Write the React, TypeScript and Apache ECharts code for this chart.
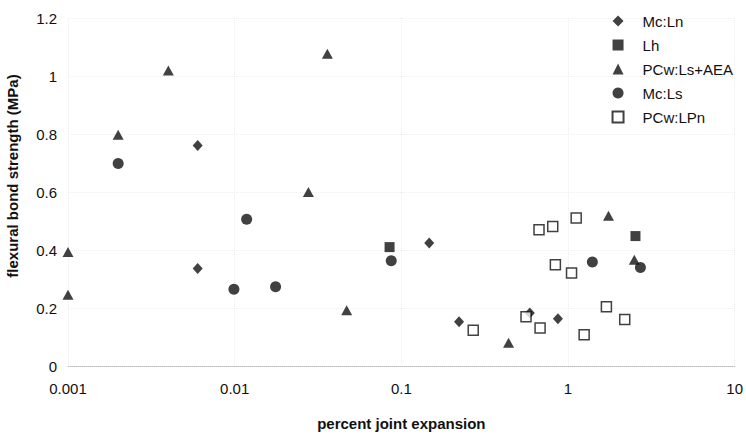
import React, { useEffect, useRef } from "react";
import * as echarts from "echarts";

const seriesNames = ["Mc:Ln", "Lh", "PCw:Ls+AEA", "Mc:Ls", "PCw:LPn"];

const mcLn: [number, number][] = [
  [0.006, 0.76], [0.006, 0.336], [0.147, 0.424], [0.222, 0.153], [0.59, 0.183], [0.87, 0.163],
];
const lh: [number, number][] = [
  [0.085, 0.41], [2.54, 0.448],
];
const pcwLsAea: [number, number][] = [
  [0.001, 0.393], [0.001, 0.246], [0.002, 0.797], [0.004, 1.019], [0.036, 1.077],
  [0.0277, 0.6], [0.047, 0.192], [0.44, 0.08], [1.75, 0.518], [2.5, 0.366],
];
const mcLs: [number, number][] = [
  [0.002, 0.698], [0.0118, 0.506], [0.0099, 0.265], [0.0176, 0.273], [0.087, 0.363],
  [1.4, 0.359], [2.72, 0.34],
];
const pcwLPn: [number, number][] = [
  [0.67, 0.47], [0.81, 0.481], [1.12, 0.51], [0.84, 0.349], [1.05, 0.321], [1.7, 0.204],
  [2.19, 0.16], [1.25, 0.108], [0.56, 0.17], [0.68, 0.131], [0.27, 0.123],
];

const xTickLabels = ["0.001", "0.01", "0.1", "1", "10"];
const yTickLabels = ["0", "0.2", "0.4", "0.6", "0.8", "1", "1.2"];

const xTitle = "percent joint expansion";
const yTitle = "flexural bond strength (MPa)";

const FONT = "'Liberation Sans', Arial, sans-serif";
const INK = "#111";

export default function App() {
  const ref = useRef<HTMLDivElement>(null);
  useEffect(() => {
    if (!ref.current) return;
    const chart = echarts.init(ref.current, undefined, { renderer: "svg" });
    const filled = { color: INK };
    chart.setOption({
      animation: false,
      backgroundColor: "#fff",
      textStyle: { fontFamily: FONT },
      grid: { left: 68, right: 10, top: 18, bottom: 64, containLabel: false },
      legend: {
        orient: "vertical",
        right: 8,
        top: 4,
        itemWidth: 11,
        itemHeight: 11,
        itemGap: 0,
        textStyle: {
          fontSize: 15,
          color: INK,
          fontFamily: FONT,
          lineHeight: 14,
          padding: [0, 0, 10, 14],
        },
        data: seriesNames,
      },
      xAxis: {
        type: "log",
        logBase: 10,
        min: 0.001,
        max: 10,
        name: xTitle,
        nameLocation: "middle",
        nameGap: 50,
        nameTextStyle: { fontSize: 15, fontWeight: "bold", color: INK, fontFamily: FONT },
        axisLine: { show: true, lineStyle: { color: "#bbb", type: "dotted", width: 1 } },
        axisTick: { show: false },
        axisLabel: {
          fontSize: 15,
          color: INK,
          margin: 15,
          formatter: (v: number) => {
            const i = Math.round(Math.log10(v)) + 3;
            return xTickLabels[i] ?? "";
          },
        },
        splitLine: { show: true, lineStyle: { color: "#ececec", type: "dotted", width: 1 } },
        minorTick: { show: false },
      },
      yAxis: {
        type: "value",
        min: 0,
        max: 1.2,
        interval: 0.2,
        axisLine: { show: false },
        axisTick: { show: false },
        axisLabel: {
          fontSize: 15,
          color: INK,
          margin: 11,
          formatter: (v: number) => yTickLabels[Math.round(v / 0.2)] ?? "",
        },
        splitLine: { show: true, lineStyle: { color: "#efefef", type: "dotted", width: 1 } },
      },
      graphic: [
        {
          type: "text",
          x: 12,
          y: 176,
          rotation: Math.PI / 2,
          style: {
            text: yTitle,
            fontSize: 15,
            fontWeight: "bold",
            fill: INK,
            fontFamily: FONT,
            align: "center",
            verticalAlign: "middle",
          },
        },
      ],
      series: [
        {
          name: seriesNames[0],
          type: "scatter",
          symbol: "diamond",
          symbolSize: [10, 11],
          itemStyle: filled,
          data: mcLn,
        },
        {
          name: seriesNames[1],
          type: "scatter",
          symbol: "rect",
          symbolSize: 10,
          itemStyle: filled,
          data: lh,
        },
        {
          name: seriesNames[2],
          type: "scatter",
          symbol: "triangle",
          symbolSize: [11, 10],
          itemStyle: filled,
          data: pcwLsAea,
        },
        {
          name: seriesNames[3],
          type: "scatter",
          symbol: "circle",
          symbolSize: 11,
          itemStyle: filled,
          data: mcLs,
        },
        {
          name: seriesNames[4],
          type: "scatter",
          symbol: "rect",
          symbolSize: 10,
          itemStyle: { color: "#fff", borderColor: INK, borderWidth: 1.5 },
          data: pcwLPn,
        },
      ],
    });
    return () => chart.dispose();
  }, []);
  return (
    <div
      ref={ref}
      style={{ position: "fixed", left: 0, top: 0, width: 746, height: 436, background: "#fff" }}
    />
  );
}
